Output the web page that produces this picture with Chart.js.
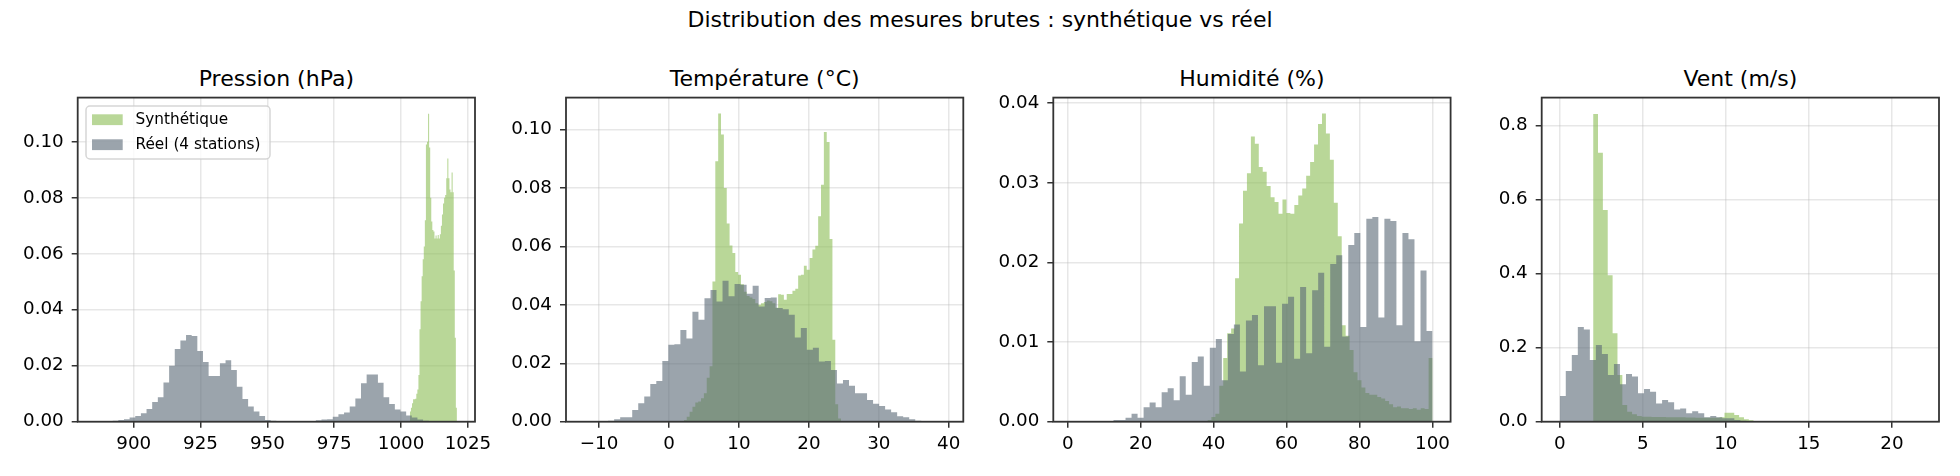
<!DOCTYPE html>
<html>
<head>
<meta charset="utf-8">
<script src="https://cdn.jsdelivr.net/npm/chart.js@4.4.1/dist/chart.umd.min.js"></script>
<style>
html, body { margin: 0; padding: 0; background: #fff; }
body { width: 1960px; height: 476px; position: relative; overflow: hidden; font-family: "DejaVu Sans", sans-serif; }
.t { position: absolute; font-size: 22px; line-height: 22px; white-space: nowrap; transform: translateX(-50%); color: #000; }
canvas { position: absolute; }
</style>
</head>
<body>
<div class="t" style="left:980px; top:9px;">Distribution des mesures brutes : synthétique vs réel</div>
<script>
// ---- data (density histograms: bin start, bin width, heights) ----
const LABEL_SYN = 'Synthétique';
const LABEL_REAL = 'Réel (4 stations)';

// Pression (hPa)
const PRES_SYN_START = 1003.3, PRES_SYN_STEP = 0.4;
const PRES_SYN = [0.0036, 0.005, 0.0066, 0.008, 0.008, 0.0082, 0.010, 0.0115, 0.0167, 0.033,
  0.043, 0.052, 0.058, 0.0626, 0.072, 0.099, 0.100, 0.110, 0.098, 0.080,
  0.0715, 0.0685, 0.068, 0.0655, 0.0665, 0.0655, 0.0667, 0.0655, 0.067, 0.070,
  0.074, 0.078, 0.080, 0.081, 0.087, 0.094, 0.087, 0.083, 0.082, 0.089,
  0.082, 0.054, 0.030, 0.005];
const PRES_REAL_START = 885.8, PRES_REAL_STEP = 2.111;
const PRES_REAL = [0.0001, 0.0001, 0.0002, 0.0003, 0.0006, 0.0009, 0.0015, 0.002, 0.003, 0.0045,
  0.007, 0.0087, 0.014, 0.020, 0.026, 0.029, 0.031, 0.0306, 0.0253, 0.0213,
  0.0163, 0.0163, 0.0209, 0.022, 0.0185, 0.0125, 0.0081, 0.0054, 0.0036, 0.002,
  0.0006, 0.0003, 0.0001, 0, 0, 0, 0, 0.0001, 0.0001, 0.0005,
  0.0008, 0.0009, 0.0018, 0.0027, 0.0033, 0.0054, 0.0083, 0.0137, 0.0169, 0.0169,
  0.0139, 0.0087, 0.0063, 0.0044, 0.0036, 0.0022, 0.0015, 0.0008, 0.0003, 0.0001];

// Température (°C)
const TEMP_SYN_START = 2.126, TEMP_SYN_STEP = 0.4085;
const TEMP_SYN = [0.0006, 0.0017, 0.0034, 0.0051, 0.0066, 0.0069, 0.008, 0.0097, 0.015, 0.019,
  0.048, 0.0891, 0.1055, 0.0983, 0.080, 0.0678, 0.0603, 0.0577, 0.0512, 0.0503,
  0.047, 0.0445, 0.043, 0.0425, 0.042, 0.0405, 0.040, 0.0405, 0.041, 0.0415,
  0.0412, 0.0405, 0.039, 0.0436, 0.0434, 0.0417, 0.0437, 0.0437, 0.0448, 0.0455,
  0.050, 0.0503, 0.0534, 0.052, 0.056, 0.0589, 0.0602, 0.0703, 0.0811, 0.0991,
  0.0957, 0.0625, 0.028, 0.006, 0.0011];
const TEMP_REAL_START = -12.15, TEMP_REAL_STEP = 0.861;
const TEMP_REAL = [0, 0, 0.0001, 0.0001, 0.0003, 0.0008, 0.0015, 0.0015, 0.004, 0.0063,
  0.0086, 0.0129, 0.0139, 0.0208, 0.0263, 0.0265, 0.0314, 0.0285, 0.0376, 0.0349,
  0.0422, 0.0451, 0.0411, 0.0482, 0.0429, 0.0471, 0.0469, 0.0438, 0.0465, 0.0394,
  0.0423, 0.0425, 0.0389, 0.0385, 0.0366, 0.0288, 0.0321, 0.0246, 0.0253, 0.0206,
  0.0208, 0.0177, 0.0131, 0.0143, 0.0123, 0.0097, 0.0097, 0.0074, 0.0061, 0.0054,
  0.0042, 0.0032, 0.0019, 0.0015, 0.0008, 0.0003, 0.0002, 0.0001, 0, 0];

// Humidité (%)
const HUM_SYN_START = 38.3, HUM_SYN_STEP = 1.0825;
const HUM_SYN = [0.0002, 0.0006, 0.001, 0.0045, 0.008, 0.0111, 0.0117, 0.018, 0.0249, 0.029,
  0.0312, 0.0358, 0.0349, 0.032, 0.0314, 0.0296, 0.0282, 0.0276, 0.0261, 0.0279,
  0.0262, 0.0261, 0.0272, 0.0284, 0.0293, 0.0309, 0.0326, 0.0348, 0.0374, 0.0387,
  0.0362, 0.0329, 0.0275, 0.0233, 0.0121, 0.0108, 0.009, 0.0062, 0.0052, 0.0043,
  0.0036, 0.0034, 0.0034, 0.0031, 0.0029, 0.0026, 0.0022, 0.0018, 0.0019, 0.0017,
  0.0017, 0.0016, 0.0017, 0.0015, 0.0017, 0.0016, 0.008];
const HUM_REAL_START = 1.0, HUM_REAL_STEP = 1.65;
const HUM_REAL = [0, 0, 0, 0, 0, 0, 0, 0.0002, 0.0002, 0.0005,
  0.001, 0.0005, 0.0018, 0.0024, 0.0018, 0.0037, 0.0042, 0.0027, 0.0057, 0.0034,
  0.0075, 0.0082, 0.0045, 0.0093, 0.0104, 0.0052, 0.011, 0.0122, 0.0063, 0.0127,
  0.0134, 0.0071, 0.0145, 0.0145, 0.0074, 0.0148, 0.0157, 0.0079, 0.0169, 0.0086,
  0.0165, 0.0187, 0.0094, 0.0198, 0.0209, 0.0107, 0.0222, 0.0237, 0.0119, 0.0255,
  0.0257, 0.0131, 0.0255, 0.0252, 0.0121, 0.0237, 0.0229, 0.0101, 0.019, 0.0114];

// Vent (m/s)
const WIND_SYN_START = 2.01, WIND_SYN_STEP = 0.293;
const WIND_SYN = [0.8315, 0.727, 0.572, 0.396, 0.239, 0.126, 0.045, 0.027, 0.020, 0.0153,
  0.0135, 0.0135, 0.013, 0.0126, 0.0126, 0.012, 0.0117, 0.0117, 0.0117, 0.0112,
  0.0112, 0.0108, 0.0108, 0.0108, 0.0105, 0.0108, 0.0117, 0.0243, 0.0243, 0.018,
  0.0117, 0.0063, 0.0036];
const WIND_REAL_START = 0, WIND_REAL_STEP = 0.3625;
const WIND_REAL = [0.0694, 0.137, 0.180, 0.256, 0.249, 0.167, 0.207, 0.183, 0.126, 0.156,
  0.101, 0.129, 0.122, 0.0766, 0.0883, 0.081, 0.0495, 0.0586, 0.0523, 0.0333,
  0.036, 0.0225, 0.028, 0.0225, 0.0117, 0.0153, 0.0117, 0.009, 0.009, 0.0045,
  0.0027, 0.0018, 0.0012, 0.0008, 0.0006, 0.0004, 0.0003, 0.0002, 0.0002, 0.0001,
  0, 0, 0, 0, 0, 0, 0, 0, 0, 0,
  0, 0, 0, 0, 0, 0, 0, 0, 0, 0.0001];

// ---- ticks ----
const PRES_XTICKS = [900, 925, 950, 975, 1000, 1025];
const PRES_YTICKS = [0, 0.02, 0.04, 0.06, 0.08, 0.10];
const TEMP_XTICKS = [-10, 0, 10, 20, 30, 40];
const TEMP_YTICKS = [0, 0.02, 0.04, 0.06, 0.08, 0.10];
const HUM_XTICKS = [0, 20, 40, 60, 80, 100];
const HUM_YTICKS = [0, 0.01, 0.02, 0.03, 0.04];
const WIND_XTICKS = [0, 5, 10, 15, 20];
const WIND_YTICKS = [0, 0.2, 0.4, 0.6, 0.8];

// ---- styles ----
const GREEN = 'rgba(138,188,84,0.6)';
const GREY = 'rgba(88,104,116,0.6)';
const GRID = 'rgba(176,176,176,0.3)';
const SPINE = '#333';
const PLOT_TOP = 97.6, PLOT_BOTTOM = 421.7, PLOT_W = 397.3;
// canvas starts well above the plot so the y labels' overflow never pushes the chart area down
const CANVAS_TOP = 67, CANVAS_H = 476 - 67;

Chart.defaults.font.family = '"DejaVu Sans", sans-serif';

// outline of a histogram as a polygon running along bin tops
function histPoints(start, step, values) {
    const pts = [{ x: start, y: 0 }];
    values.forEach((v, i) => {
        pts.push({ x: start + i * step, y: v });
        pts.push({ x: start + (i + 1) * step, y: v });
    });
    pts.push({ x: start + values.length * step, y: 0 });
    return pts;
}

const spines = {
    id: 'spines',
    afterDraw(chart) {
        const { ctx, chartArea: a } = chart;
        ctx.save();
        ctx.strokeStyle = SPINE;
        ctx.lineWidth = 1.8;
        ctx.strokeRect(a.left, a.top, a.right - a.left, a.bottom - a.top);
        ctx.restore();
    }
};

const legendBox = {
    id: 'legendBox',
    afterDatasetsDraw(chart, args, opts) {
        if (!opts.show) return;
        const { ctx, chartArea: a } = chart;
        const x = a.left + 8.3, y = a.top + 8.4;
        ctx.save();
        ctx.beginPath();
        ctx.roundRect(x, y, 184, 53, 4);
        ctx.fillStyle = 'rgba(255,255,255,0.8)';
        ctx.fill();
        ctx.strokeStyle = 'rgba(204,204,204,0.8)';
        ctx.lineWidth = 1.5;
        ctx.stroke();
        const items = [[GREEN, LABEL_SYN], [GREY, LABEL_REAL]];
        ctx.font = '15.3px "DejaVu Sans"';
        ctx.textBaseline = 'middle';
        items.forEach(([c, label], i) => {
            const ry = y + 13.7 + i * 25;
            ctx.fillStyle = c;
            ctx.fillRect(x + 6, ry - 5.4, 30.7, 10.8);
            ctx.fillStyle = '#000';
            ctx.fillText(label, x + 49.5, ry);
        });
        ctx.restore();
    }
};

function fmtX(v) {
    return v < 0 ? '\u2212' + Math.abs(v) : String(v);
}

function makePanel(p) {
    const canvasLeft = Math.round(p.left) - 72;
    const yAxisW = p.left - canvasLeft;
    const canvasW = Math.ceil(yAxisW + PLOT_W + 28);
    const rightPad = canvasW - yAxisW - PLOT_W;

    const title = document.createElement('div');
    title.className = 't';
    title.style.left = (p.left + PLOT_W / 2) + 'px';
    title.style.top = '68px';
    title.textContent = p.title;
    document.body.appendChild(title);

    const cv = document.createElement('canvas');
    cv.width = canvasW;
    cv.height = CANVAS_H;
    cv.style.left = canvasLeft + 'px';
    cv.style.top = CANVAS_TOP + 'px';
    document.body.appendChild(cv);

    new Chart(cv, {
        type: 'line',
        data: {
            datasets: [
                { label: LABEL_SYN, data: histPoints(p.syn[0], p.syn[1], p.syn[2]),
                  backgroundColor: GREEN, borderColor: 'transparent', borderWidth: 0,
                  fill: 'origin', pointRadius: 0, order: 1 },
                { label: LABEL_REAL, data: histPoints(p.real[0], p.real[1], p.real[2]),
                  backgroundColor: GREY, borderColor: 'transparent', borderWidth: 0,
                  fill: 'origin', pointRadius: 0, order: 0 }
            ]
        },
        options: {
            responsive: false,
            animation: false,
            layout: { padding: { top: PLOT_TOP - CANVAS_TOP, right: rightPad, bottom: 0, left: 0 } },
            plugins: {
                legend: { display: false },
                tooltip: { enabled: false },
                legendBox: { show: !!p.legend }
            },
            elements: { line: { tension: 0 } },
            scales: {
                x: {
                    type: 'linear', min: p.xMin, max: p.xMax, z: 1,
                    afterBuildTicks: s => { s.ticks = p.xTicks.map(v => ({ value: v })); },
                    afterFit: s => { s.height = CANVAS_H - (PLOT_BOTTOM - CANVAS_TOP); },
                    ticks: { callback: v => fmtX(v), color: '#000', font: { size: 18.3 },
                             padding: 6, maxRotation: 0, autoSkip: false },
                    grid: { color: GRID, lineWidth: 1.5, tickColor: SPINE, tickLength: 6, tickWidth: 1.5 },
                    border: { display: false }
                },
                y: {
                    type: 'linear', min: 0, max: p.yMax, z: 1,
                    afterBuildTicks: s => { s.ticks = p.yTicks.map(v => ({ value: v })); },
                    afterFit: s => { s.width = yAxisW; },
                    ticks: { callback: v => v.toFixed(p.yDec), color: '#000', font: { size: 18.3 },
                             padding: 8, autoSkip: false },
                    grid: { color: GRID, lineWidth: 1.5, tickColor: SPINE, tickLength: 6, tickWidth: 1.5 },
                    border: { display: false }
                }
            }
        },
        plugins: [legendBox, spines]
    });
}

makePanel({ left: 77.7, title: 'Pression (hPa)', xMin: 879.05, xMax: 1027.66, xTicks: PRES_XTICKS,
    yMax: 0.1158, yTicks: PRES_YTICKS, yDec: 2, legend: true,
    syn: [PRES_SYN_START, PRES_SYN_STEP, PRES_SYN], real: [PRES_REAL_START, PRES_REAL_STEP, PRES_REAL] });
makePanel({ left: 566.0, title: 'Température (°C)', xMin: -14.73, xMax: 42.08, xTicks: TEMP_XTICKS,
    yMax: 0.1109, yTicks: TEMP_YTICKS, yDec: 2,
    syn: [TEMP_SYN_START, TEMP_SYN_STEP, TEMP_SYN], real: [TEMP_REAL_START, TEMP_REAL_STEP, TEMP_REAL] });
makePanel({ left: 1053.3, title: 'Humidité (%)', xMin: -3.95, xMax: 104.95, xTicks: HUM_XTICKS,
    yMax: 0.0407, yTicks: HUM_YTICKS, yDec: 2,
    syn: [HUM_SYN_START, HUM_SYN_STEP, HUM_SYN], real: [HUM_REAL_START, HUM_REAL_STEP, HUM_REAL] });
makePanel({ left: 1541.7, title: 'Vent (m/s)', xMin: -1.0875, xMax: 22.8375, xTicks: WIND_XTICKS,
    yMax: 0.8757, yTicks: WIND_YTICKS, yDec: 1,
    syn: [WIND_SYN_START, WIND_SYN_STEP, WIND_SYN], real: [WIND_REAL_START, WIND_REAL_STEP, WIND_REAL] });
</script>
</body>
</html>
